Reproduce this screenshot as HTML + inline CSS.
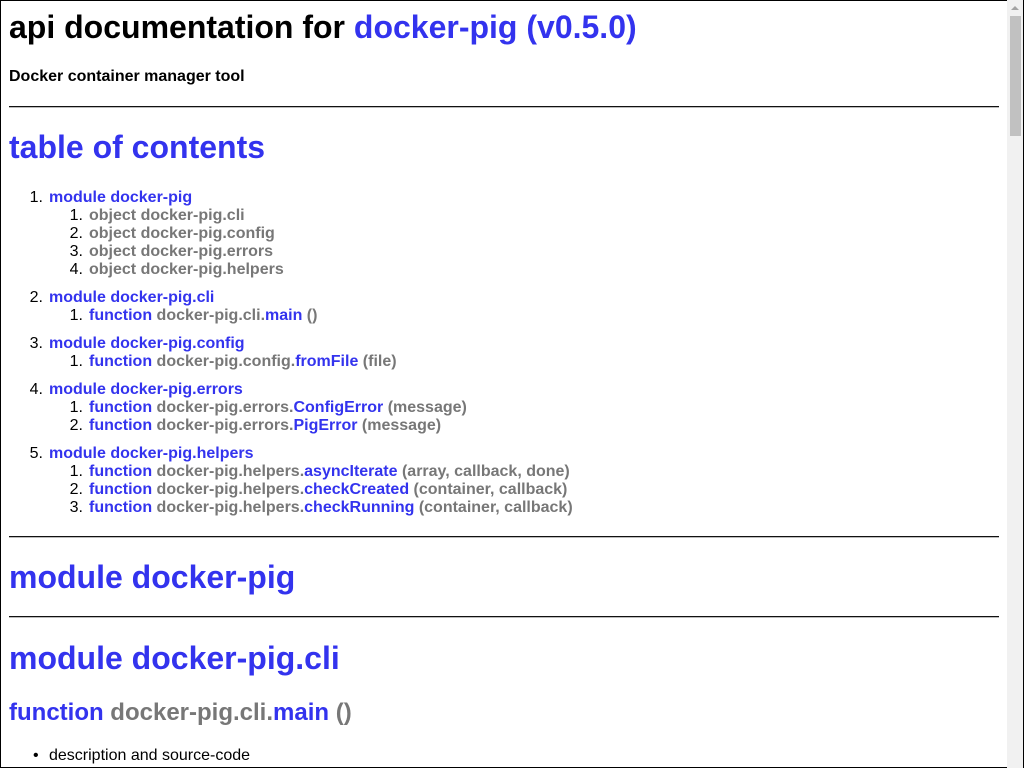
<!DOCTYPE html>
<html><head><style>
*{margin:0;padding:0;box-sizing:border-box}
html,body{width:1024px;height:768px;overflow:hidden;background:#fff}
body{font-family:"Liberation Sans",Arial,sans-serif;position:relative;border:1px solid #000}
.a{position:absolute;white-space:nowrap;font-weight:bold}
.b{color:#3333ee}.g{color:#777}
.n{font-weight:normal;color:#000;display:inline-block;width:22px;text-align:right;margin-left:-22px;padding-right:6px;width:22px}
.hr{position:absolute;left:8px;width:990px;height:2px;background:linear-gradient(#111 50%,#bbb 50%)}
.l{font-size:16px;line-height:18px}
#sb{position:absolute;left:1006px;top:-1px;width:16px;height:768px;background:#f1f1f1}
#th{position:absolute;left:1009px;top:15px;width:11px;height:120px;background:#c1c1c1}
</style></head><body>
<div class="a" style="left:8px;top:8px;font-size:32px;line-height:37px">api documentation for <span class="b">docker-pig (v0.5.0)</span></div>
<div class="a" style="left:8px;top:67px;font-size:16px;line-height:18px">Docker container manager tool</div>
<div class="hr" style="top:105px"></div>
<div class="a b" style="left:8px;top:128px;font-size:32px;line-height:37px">table of contents</div>

<div class="a l" style="left:48px;top:188px"><span class="n">1.</span><span class="b">module docker-pig</span></div>
<div class="a l g" style="left:88px;top:206px"><span class="n">1.</span>object docker-pig.cli</div>
<div class="a l g" style="left:88px;top:224px"><span class="n">2.</span>object docker-pig.config</div>
<div class="a l g" style="left:88px;top:242px"><span class="n">3.</span>object docker-pig.errors</div>
<div class="a l g" style="left:88px;top:260px"><span class="n">4.</span>object docker-pig.helpers</div>

<div class="a l" style="left:48px;top:288px"><span class="n">2.</span><span class="b">module docker-pig.cli</span></div>
<div class="a l g" style="left:88px;top:306px"><span class="n">1.</span><span class="b">function</span> docker-pig.cli.<span class="b">main</span> ()</div>

<div class="a l" style="left:48px;top:334px"><span class="n">3.</span><span class="b">module docker-pig.config</span></div>
<div class="a l g" style="left:88px;top:352px"><span class="n">1.</span><span class="b">function</span> docker-pig.config.<span class="b">fromFile</span> (file)</div>

<div class="a l" style="left:48px;top:380px"><span class="n">4.</span><span class="b">module docker-pig.errors</span></div>
<div class="a l g" style="left:88px;top:398px"><span class="n">1.</span><span class="b">function</span> docker-pig.errors.<span class="b">ConfigError</span> (message)</div>
<div class="a l g" style="left:88px;top:416px"><span class="n">2.</span><span class="b">function</span> docker-pig.errors.<span class="b">PigError</span> (message)</div>

<div class="a l" style="left:48px;top:444px"><span class="n">5.</span><span class="b">module docker-pig.helpers</span></div>
<div class="a l g" style="left:88px;top:462px"><span class="n">1.</span><span class="b">function</span> docker-pig.helpers.<span class="b">asyncIterate</span> (array, callback, done)</div>
<div class="a l g" style="left:88px;top:480px"><span class="n">2.</span><span class="b">function</span> docker-pig.helpers.<span class="b">checkCreated</span> (container, callback)</div>
<div class="a l g" style="left:88px;top:498px"><span class="n">3.</span><span class="b">function</span> docker-pig.helpers.<span class="b">checkRunning</span> (container, callback)</div>

<div class="hr" style="top:535px"></div>
<div class="a b" style="left:8px;top:558px;font-size:32px;line-height:37px">module docker-pig</div>
<div class="hr" style="top:615px"></div>
<div class="a b" style="left:8px;top:639px;font-size:32px;line-height:37px">module docker-pig.cli</div>
<div class="a g" style="left:8px;top:698px;font-size:24px;line-height:28px"><span class="b">function</span> docker-pig.cli.<span class="b">main</span> ()</div>
<div class="a" style="left:48px;top:746px;font-size:16px;line-height:18px;font-weight:normal"><span style="position:absolute;left:-16px;top:0">•</span>description and source-code</div>

<div id="sb"><div style="position:absolute;left:4px;top:6px;width:0;height:0;border-left:4px solid transparent;border-right:4px solid transparent;border-bottom:4px solid #a3a3a3"></div></div>
<div id="th"></div>
</body></html>
